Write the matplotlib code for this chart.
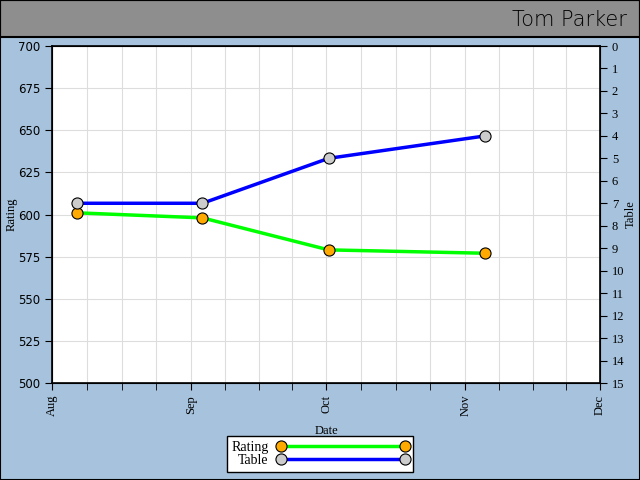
# Rating / league table history chart for one player

import datetime as dt
import matplotlib
matplotlib.use('Agg')
import matplotlib.pyplot as plt
import matplotlib.dates as mdates
from matplotlib.patches import Rectangle
from matplotlib.lines import Line2D


# ## Data ## #

player = 'Tom Parker'

matchDates = [dt.datetime(2011, 8, 6, 12), dt.datetime(2011, 9, 3, 12),
              dt.datetime(2011, 10, 1, 14), dt.datetime(2011, 11, 5, 12)]
rating = [601, 598, 579, 577]        # left axis
table = [7, 7, 5, 4]                 # right axis (league position)

monthStarts = [dt.date(2011, 8, 1), dt.date(2011, 9, 1),
               dt.date(2011, 10, 1), dt.date(2011, 11, 1),
               dt.date(2011, 12, 1)]
monthLabels = ['Aug', 'Sep', 'Oct', 'Nov', 'Dec']

ratingTicks = [500, 525, 550, 575, 600, 625, 650, 675, 700]
tableTicks = list(range(0, 16))


# ## Style ## #

bgBlue = '#a6c2dc'
barGray = '#8e8e8e'
serif = 'Liberation Serif'


def quarterTicks(starts):
    # ticks every quarter of a month, between two month starts
    out = []
    for a, b in zip(starts[:-1], starts[1:]):
        na, nb = mdates.date2num(a), mdates.date2num(b)
        for k in range(1, 4):
            out.append(na + (nb - na) * k / 4.0)
    return out


def main():
    fig = plt.figure(figsize=(6.4, 4.8), dpi=100, facecolor=bgBlue)

    # title bar
    fig.patches.append(Rectangle((0, 1 - 37 / 480.), 1, 37 / 480.,
                                 transform=fig.transFigure,
                                 facecolor=barGray, edgecolor='black',
                                 linewidth=1.5, zorder=0))
    fig.patches.append(Rectangle((0, 0), 1, 1, transform=fig.transFigure,
                                 facecolor='none', edgecolor='black',
                                 linewidth=1.5, zorder=5))
    fig.text(0.98, 1 - 20 / 480., player, ha='right', va='center',
             fontsize=15, family='DejaVu Sans', fontweight='light')

    ax = fig.add_axes([52 / 640., 97 / 480., 548 / 640., 337 / 480.])
    ax.set_facecolor('white')

    xd = mdates.date2num(matchDates)
    ax.plot(xd, rating, color='#00ff00', linewidth=2.5, marker='o',
            markersize=8, markerfacecolor='#ffaa00',
            markeredgecolor='black', markeredgewidth=0.8, zorder=3)

    ax.set_xlim(mdates.date2num(monthStarts[0]),
                mdates.date2num(monthStarts[-1]))
    ax.set_ylim(500, 700)
    ax.set_yticks(ratingTicks)
    ax.set_xticks(mdates.date2num(monthStarts))
    ax.set_xticklabels(monthLabels, rotation=90, family=serif, fontsize=9)
    ax.set_xticks(quarterTicks(monthStarts), minor=True)
    ax.grid(True, which='both', color='#dddddd', linewidth=0.8)
    ax.set_axisbelow(True)
    ax.tick_params(axis='y', labelsize=8.5, length=5, direction='out')
    ax.tick_params(axis='x', which='both', length=5, direction='out')
    ax.set_ylabel('Rating', family=serif, fontsize=9)
    ax.yaxis.set_label_coords(-0.062, 0.5)
    ax.set_xlabel('Date', family=serif, fontsize=9)
    ax.xaxis.set_label_coords(0.5, -0.125)
    for s in ax.spines.values():
        s.set_linewidth(1.2)

    ax2 = ax.twinx()
    ax2.plot(xd, table, color='#0000ff', linewidth=2.5, marker='o',
             markersize=8, markerfacecolor='#cccccc',
             markeredgecolor='black', markeredgewidth=0.8, zorder=3)
    ax2.set_ylim(15, 0)
    ax2.set_yticks(tableTicks)
    ax2.set_yticklabels([str(t) for t in tableTicks], family=serif,
                        fontsize=9)
    ax2.tick_params(axis='y', length=5, direction='out')
    ax2.set_ylabel('Table', family=serif, fontsize=9)
    ax2.yaxis.set_label_coords(1.0456, 0.5)

    handles = [Line2D([], [], color='#00ff00', linewidth=2.5, marker='o',
                      markersize=8, markerfacecolor='#ffaa00',
                      markeredgecolor='black', markeredgewidth=0.8),
               Line2D([], [], color='#0000ff', linewidth=2.5, marker='o',
                      markersize=8, markerfacecolor='#cccccc',
                      markeredgecolor='black', markeredgewidth=0.8)]
    leg = fig.legend(handles, ['Rating', 'Table'], loc='center',
                     bbox_to_anchor=(320 / 640., 1 - 454 / 480.),
                     numpoints=2, handlelength=9.5, handletextpad=0.6,
                     markerfirst=False,
                     labelspacing=0.05, borderpad=0.3, fancybox=False,
                     framealpha=1, edgecolor='black',
                     prop={'family': serif, 'size': 10})
    leg.get_frame().set_linewidth(1.0)

    fig.savefig('out.png', dpi=100, facecolor=bgBlue)
    return 1


if __name__ == '__main__':
    main()
